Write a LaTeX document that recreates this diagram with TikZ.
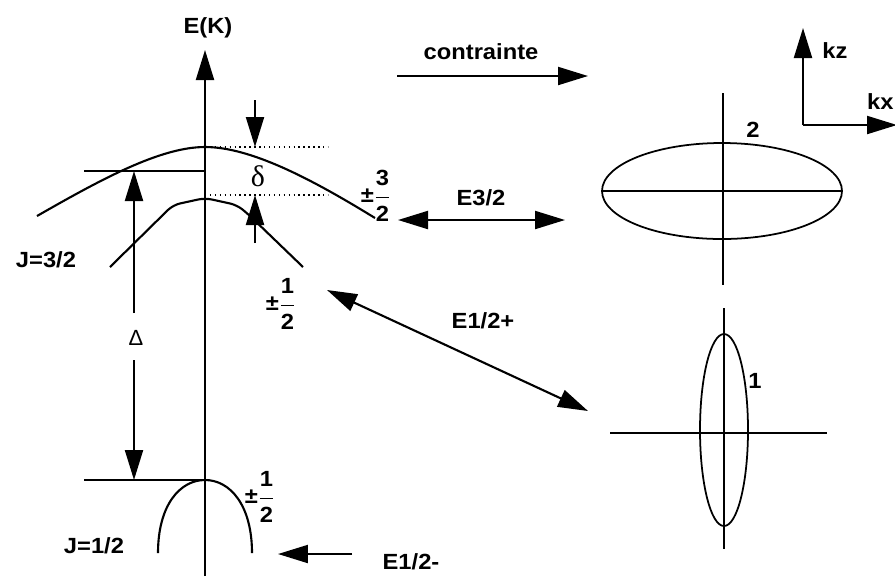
\documentclass[tikz,border=0pt]{standalone}
\usepackage{fontspec}
\setmainfont{Liberation Sans Bold}[FakeStretch=1.08]
\newfontfamily\grkfont{Liberation Serif}
\newfontfamily\thinfont{Liberation Sans}
\usetikzlibrary{arrows.meta}
\newcommand{\pmfrac}[2]{±$\displaystyle\frac{\mbox{#1}\rule[-5.5pt]{0pt}{5.5pt}}{\rule{0pt}{12.5pt}\mbox{#2}}$}

\begin{document}
\begin{tikzpicture}[x=0.02cm, y=-0.02cm, line width=1.2pt,
  font=\fontsize{12.5}{15}\selectfont,
  >={Triangle[length=0.6cm, width=0.36cm]},
  lbl/.style={inner sep=0pt},
  lev/.style={dotted, line width=0.8pt},
  ell/.style={line width=1pt}]
  \useasboundingbox (0,0) rectangle (895,576);

  % energy axis
  \coordinate (ax0) at (205,576);
  \coordinate (ax1) at (205,50);
  \draw[->] (ax0) -- (ax1);
  \node[lbl] (ek) at (208,28) {E(K)};

  % bands
  \draw (37,216) .. controls (100,180) and (160,147) .. (205,147)
    .. controls (250,147) and (310,178) .. (375,218);
  \draw[rounded corners=4pt] (110,267) -- (173,205) -- (205,198) -- (237,205)
    -- (248,214) -- (303,267);
  \draw (158,553) .. controls (158,505) and (180,480) .. (205,480)
    .. controls (230,480) and (252,505) .. (252,553);

  % levels
  \coordinate (hh0) at (84,171);  \coordinate (hh1) at (205,171);
  \coordinate (hl0) at (84,480);  \coordinate (hl1) at (205,480);
  \draw (hh0) -- (hh1);
  \draw (hl0) -- (hl1);
  \coordinate (dt0) at (205,147); \coordinate (dt1) at (328,147);
  \coordinate (db0) at (205,195); \coordinate (db1) at (328,195);
  \draw[lev] (dt0) -- (dt1);
  \draw[lev] (db0) -- (db1);

  % delta
  \coordinate (da) at (255,100); \coordinate (dta) at (255,147);
  \coordinate (db) at (255,243); \coordinate (dtb) at (255,195);
  \draw[->] (da) -- (dta);
  \draw[->] (db) -- (dtb);
  \node[lbl] (delta) at (258,176) {\grkfont\fontsize{17}{19}\selectfont δ};

  % Delta
  \coordinate (Da) at (134,313); \coordinate (Dta) at (134,171);
  \coordinate (Db) at (134,360); \coordinate (Dtb) at (134,480);
  \draw[->] (Da) -- (Dta);
  \draw[->] (Db) -- (Dtb);
  \node[lbl] (Delta) at (136,338) {\thinfont Δ};

  % band labels
  \node[lbl] (j32) at (46,260) {J=3/2};
  \node[lbl] (j12) at (94,546) {J=1/2};
  \node[lbl] (m32) at (376,196) {\pmfrac{3}{2}};
  \node[lbl] (m12a) at (281,304) {\pmfrac{1}{2}};
  \node[lbl] (m12b) at (260,497) {\pmfrac{1}{2}};

  % transitions
  \coordinate (c0) at (397,76);  \coordinate (c1) at (588,76);
  \draw[->] (c0) -- (c1);
  \node[lbl] (cont) at (481,52) {contrainte};
  \coordinate (e0) at (398,220); \coordinate (e1) at (565,220);
  \draw[<->] (e0) -- (e1);
  \node[lbl] (e32) at (481,198) {E3/2};
  \coordinate (p0) at (327,290); \coordinate (p1) at (588,411);
  \draw[<->] (p0) -- (p1);
  \node[lbl] (e12p) at (483,321) {E1/2+};
  \coordinate (m0) at (352,554); \coordinate (m1) at (278,554);
  \draw[->] (m0) -- (m1);
  \node[lbl] (e12m) at (411,562) {E1/2-};

  % k axes
  \coordinate (k0) at (803,125);
  \coordinate (kz) at (803,28);
  \coordinate (kx) at (897,125);
  \draw[->] (k0) -- (kz);
  \draw[->] (k0) -- (kx);
  \node[lbl] (kzl) at (835,51) {kz};
  \node[lbl, anchor=west] (kxl) at (866,102) {kx};

  % surfaces
  \draw[ell] (722,191) ellipse [x radius=120, y radius=48];
  \draw[ell] (602,191) -- (842,191);
  \draw[ell] (723,93) -- (723,285);
  \node[lbl] (s2) at (753,130) {2};
  \draw[ell] (724,430) ellipse [x radius=24, y radius=96];
  \draw[ell] (610,433) -- (827,433);
  \draw[ell] (724,308) -- (724,549);
  \node[lbl] (s1) at (755,381) {1};
\end{tikzpicture}
\end{document}
